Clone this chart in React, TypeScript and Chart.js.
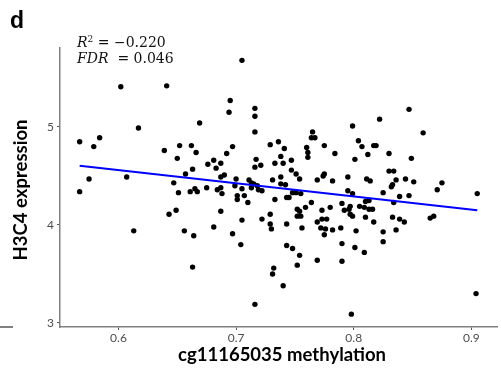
import { useEffect, useRef } from "react";
import { Chart, registerables } from "chart.js";

Chart.register(...registerables);

// cg11165035 methylation (x) for each sample
const methylation = [
  0.602, 0.641, 0.705, 0.695, 0.694, 0.716, 0.716, 0.847, 0.822,
  0.617, 0.567, 0.584, 0.579, 0.639, 0.575, 0.607, 0.567, 0.643, 0.613,
  0.669, 0.716, 0.652, 0.662, 0.666, 0.697, 0.729, 0.736, 0.650, 0.692,
  0.681, 0.687, 0.676, 0.683, 0.663, 0.717, 0.716, 0.721, 0.733, 0.657,
  0.647, 0.651, 0.661, 0.665, 0.667, 0.675, 0.684, 0.687, 0.688, 0.687,
  0.690, 0.700, 0.699, 0.701, 0.701, 0.705, 0.707, 0.710, 0.711, 0.713,
  0.713, 0.715, 0.718, 0.719, 0.722, 0.731, 0.733, 0.649, 0.687, 0.705,
  0.722, 0.729, 0.729, 0.730, 0.656, 0.664, 0.681, 0.697, 0.704,
  0.799, 0.765, 0.764, 0.767, 0.741, 0.760, 0.761, 0.761, 0.775, 0.784,
  0.804, 0.807, 0.817, 0.819, 0.812, 0.801, 0.738, 0.740, 0.747, 0.747,
  0.751, 0.754, 0.738, 0.738, 0.742, 0.769, 0.774, 0.775, 0.782, 0.795,
  0.811, 0.814, 0.825, 0.795, 0.799, 0.743, 0.745, 0.748, 0.751, 0.755,
  0.764, 0.759, 0.752, 0.754, 0.755, 0.752, 0.743, 0.756, 0.773, 0.780,
  0.790, 0.792, 0.797, 0.796, 0.797, 0.799, 0.805, 0.809, 0.813, 0.816,
  0.810, 0.813, 0.810, 0.817, 0.769, 0.773, 0.777, 0.772, 0.776, 0.782,
  0.789, 0.802, 0.825, 0.790, 0.801, 0.743, 0.748, 0.775, 0.825,
  0.859, 0.830, 0.849, 0.830, 0.834, 0.836, 0.833, 0.832, 0.844, 0.851,
  0.875, 0.871, 0.905, 0.839, 0.847, 0.834, 0.833, 0.839, 0.843, 0.836,
  0.865, 0.868,
  0.663, 0.754, 0.752, 0.769, 0.790, 0.732, 0.731, 0.740, 0.716, 0.809,
  0.798, 0.904,
];

// H3C4 expression (y) for each sample
const expression = [
  5.41, 5.42, 5.68, 5.27, 5.15, 5.19, 5.11, 5.18, 5.08,
  4.99, 4.85, 4.89, 4.80, 4.76, 4.47, 4.49, 4.34, 4.11, 3.94,
  5.04, 4.95, 4.81, 4.81, 4.74, 4.80, 4.82, 4.85, 4.68, 4.73,
  4.66, 4.63, 4.62, 4.58, 4.57, 4.67, 4.59, 4.61, 4.63, 4.52,
  4.43, 4.33, 4.34, 4.37, 4.34, 4.38, 4.36, 4.38, 4.32, 4.49,
  4.51, 4.47, 4.40, 4.30, 4.26, 4.37, 4.30, 4.23, 4.46, 4.43,
  4.38, 4.42, 4.40, 4.36, 4.35, 4.46, 4.26, 4.15, 4.14, 4.05,
  4.06, 4.11, 4.01, 3.96, 3.94, 3.89, 3.98, 3.91, 3.80,
  5.01, 4.95, 4.89, 4.89, 4.78, 4.79, 4.74, 4.69, 4.81, 4.73,
  4.86, 4.80, 4.81, 4.81, 4.72, 4.67, 4.70, 4.63, 4.66, 4.56,
  4.52, 4.47, 4.49, 4.42, 4.41, 4.46, 4.50, 4.52, 4.45, 4.49,
  4.47, 4.45, 4.33, 4.35, 4.32, 4.28, 4.28, 4.33, 4.33, 4.32,
  4.23, 4.18, 4.16, 4.14, 4.09, 4.09, 4.01, 3.97, 4.15, 4.18,
  4.22, 4.15, 4.19, 4.16, 4.11, 4.09, 4.19, 4.18, 4.16, 4.16,
  4.24, 4.25, 4.08, 4.03, 4.03, 4.06, 4.06, 3.97, 3.96, 3.95,
  3.97, 3.94, 3.93, 3.81, 3.77, 3.79, 3.76, 3.90, 3.83,
  4.94, 4.73, 4.68, 4.55, 4.55, 4.46, 4.41, 4.39, 4.47, 4.44,
  4.43, 4.36, 4.32, 4.29, 4.30, 4.23, 4.08, 4.06, 4.03, 3.95,
  4.07, 4.09,
  3.57, 3.69, 3.59, 3.64, 3.63, 3.56, 3.50, 3.38, 3.19, 3.72,
  3.09, 3.30,
];

// fitted regression line end points
const fitX = [0.567, 0.905];
const fitY = [4.605, 4.15];

const xTicks = [0.6, 0.7, 0.8, 0.9];
const yTicks = [3, 4, 5];
const xRange = [0.5503, 0.9218];
const yRange = [2.959, 5.806];

const panelLetter = "d";
const xTitle = "cg11165035 methylation";
const yTitle = "H3C4 expression";
const r2Value = "\u22120.220";
const fdrValue = "0.046";

export default function App() {
  const ref = useRef<HTMLCanvasElement | null>(null);

  useEffect(() => {
    if (!ref.current) return;
    const tickFont = { family: "Lato, 'Open Sans', sans-serif", size: 12 };
    const chart = new Chart(ref.current, {
      type: "scatter",
      data: {
        datasets: [
          {
            data: fitX.map((x, i) => ({ x, y: fitY[i] })),
            showLine: true,
            borderColor: "#0000ff",
            borderWidth: 2,
            pointRadius: 0,
            order: 0,
          } as any,
          {
            data: methylation.map((x, i) => ({ x, y: expression[i] })),
            pointRadius: 2.7,
            pointBackgroundColor: "#000",
            backgroundColor: "#000",
            borderWidth: 0,
            order: 1,
          } as any,
        ],
      },
      options: {
        animation: false,
        responsive: false,
        devicePixelRatio: 1,
        layout: { padding: { top: 48, left: 0, right: 0, bottom: 0 } },
        plugins: { legend: { display: false }, tooltip: { enabled: false } },
        scales: {
          x: {
            type: "linear",
            min: xRange[0],
            max: xRange[1],
            afterBuildTicks: (s: any) => {
              s.ticks = xTicks.map((v) => ({ value: v }));
            },
            afterFit: (s: any) => {
              s.height = 45;
            },
            grid: { drawOnChartArea: false, tickLength: 3, tickColor: "#555", tickWidth: 1 },
            border: { color: "#808080", width: 1.5 },
            ticks: {
              color: "#4d4d4d",
              font: tickFont,
              padding: 1,
              maxRotation: 0,
              callback: (v: any) => Number(v).toFixed(1),
            },
          },
          y: {
            type: "linear",
            min: yRange[0],
            max: yRange[1],
            afterBuildTicks: (s: any) => {
              s.ticks = yTicks.map((v) => ({ value: v }));
            },
            afterFit: (s: any) => {
              s.width = 60;
            },
            grid: { drawOnChartArea: false, tickLength: 3, tickColor: "#555", tickWidth: 1 },
            border: { color: "#808080", width: 1.5 },
            ticks: {
              color: "#4d4d4d",
              font: tickFont,
              padding: 3,
              callback: (v: any) => String(v),
            },
          },
        },
      },
    });
    return () => chart.destroy();
  }, []);

  const serif = "'DejaVu Serif', serif";
  return (
    <div
      style={{
        position: "fixed",
        left: 0,
        top: 0,
        width: 501,
        height: 372,
        background: "#fff",
        overflow: "hidden",
      }}
    >
      <canvas ref={ref} width={501} height={372} style={{ position: "absolute", left: 0, top: 0 }} />
      <div
        style={{
          position: "absolute",
          left: 10,
          top: 9,
          font: "bold 23px 'Liberation Sans', Arial, sans-serif",
          lineHeight: 1,
          color: "#000",
        }}
      >
        {panelLetter}
      </div>
      <div
        style={{
          position: "absolute",
          left: 77,
          top: 34.7,
          fontFamily: serif,
          fontSize: 14,
          lineHeight: 1,
          whiteSpace: "pre",
          color: "#111",
        }}
      >
        <i>R</i>
        <sup style={{ fontSize: 9, verticalAlign: "5px" }}>2</sup>
        {" = " + r2Value}
      </div>
      <div
        style={{
          position: "absolute",
          left: 77,
          top: 50.5,
          fontFamily: serif,
          fontSize: 14,
          lineHeight: 1,
          whiteSpace: "pre",
          color: "#111",
        }}
      >
        <i>FDR</i>
        {"  = " + fdrValue}
      </div>
      <div
        style={{
          position: "absolute",
          left: 282,
          top: 344.6,
          transform: "translateX(-50%)",
          font: "bold 18.5px Lato, sans-serif",
          lineHeight: 1,
          whiteSpace: "nowrap",
          color: "#000",
        }}
      >
        {xTitle}
      </div>
      <div
        style={{
          position: "absolute",
          left: 20,
          top: 190,
          transform: "translate(-50%, -50%) rotate(-90deg)",
          font: "bold 18.5px Lato, sans-serif",
          lineHeight: 1,
          whiteSpace: "nowrap",
          color: "#000",
        }}
      >
        {yTitle}
      </div>
      <div
        style={{
          position: "absolute",
          left: 0,
          top: 326,
          width: 13,
          height: 1.5,
          background: "#808080",
        }}
      />
    </div>
  );
}
